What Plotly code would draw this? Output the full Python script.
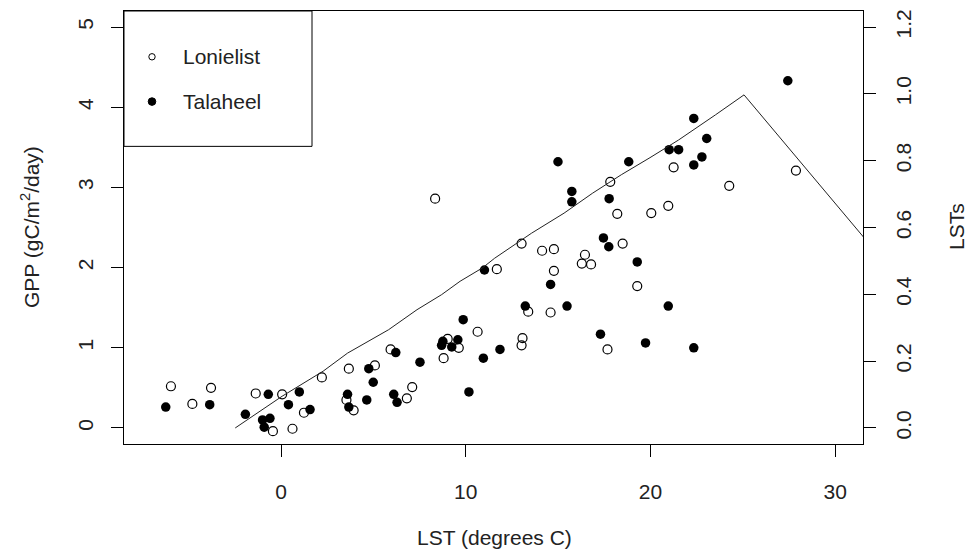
import plotly.graph_objects as go

# ---- data ----
lon_lst = [-5.96, -4.80, -3.79, -1.37, 0.06, -0.44, 0.62, 1.24, 2.21, 3.67, 3.54, 3.93,
           5.08, 5.93, 6.81, 7.10, 10.64, 9.02, 9.62, 8.80, 13.07, 13.02, 13.38, 14.59,
           14.77, 14.13, 14.77, 11.68, 13.02, 8.34, 17.82, 18.20, 16.45, 16.28, 16.78,
           18.49, 19.28, 17.67, 20.04, 20.96, 21.25, 24.26, 27.87]
lon_gpp = [0.52, 0.30, 0.50, 0.43, 0.42, -0.04, -0.01, 0.19, 0.63, 0.74, 0.35, 0.22,
           0.78, 0.98, 0.37, 0.51, 1.20, 1.11, 1.00, 0.87, 1.12, 1.03, 1.45, 1.44,
           1.96, 2.21, 2.23, 1.98, 2.30, 2.86, 3.07, 2.67, 2.16, 2.05, 2.04,
           2.30, 1.77, 0.98, 2.68, 2.77, 3.25, 3.02, 3.21]

tal_lst = [-6.24, -3.86, -1.93, -0.69, 0.99, 0.40, -1.00, -0.60, -0.91, 1.57, 3.60, 3.67,
           4.75, 4.99, 4.64, 6.21, 6.10, 6.28, 7.52, 9.86, 8.76, 8.69, 9.24, 9.57,
           10.17, 10.95, 11.85, 13.22, 14.59, 15.48, 11.01, 14.99, 15.74, 15.74, 17.76,
           18.82, 17.45, 17.74, 19.28, 20.96, 17.29, 19.73, 22.34, 21.01, 21.52, 22.34,
           23.04, 22.78, 22.34, 27.43]
tal_gpp = [0.26, 0.29, 0.17, 0.42, 0.45, 0.29, 0.10, 0.12, 0.01, 0.23, 0.42, 0.26,
           0.74, 0.57, 0.35, 0.94, 0.42, 0.32, 0.82, 1.35, 1.08, 1.03, 1.01, 1.10,
           0.45, 0.87, 0.98, 1.52, 1.79, 1.52, 1.97, 3.32, 2.95, 2.82, 2.86,
           3.32, 2.37, 2.26, 2.07, 1.52, 1.17, 1.06, 1.00, 3.47, 3.47, 3.86,
           3.61, 3.38, 3.28, 4.33]

line_lst = [-2.48, 0.06, 2.28, 3.60, 5.82, 7.36, 8.69, 9.69, 10.90, 11.56, 13.56, 15.32,
            16.87, 18.42, 19.97, 21.52, 23.51, 25.06, 31.70]
line_scale = [0.0, 0.095, 0.170, 0.224, 0.294, 0.354, 0.399, 0.439, 0.479, 0.508, 0.583, 0.643,
              0.703, 0.758, 0.809, 0.862, 0.937, 0.997, 0.560]

x_ticks = [0, 10, 20, 30]
y_ticks = [0, 1, 2, 3, 4, 5]
y2_ticks = [0.0, 0.2, 0.4, 0.6, 0.8, 1.0, 1.2]
y2_labels = ["0.0", "0.2", "0.4", "0.6", "0.8", "1.0", "1.2"]

FONT = "Liberation Sans, Arial, sans-serif"
FS = 21

fig = go.Figure()
fig.add_trace(go.Scatter(x=lon_lst, y=lon_gpp, mode="markers", name="Lonielist",
                         marker=dict(symbol="circle-open", size=9, color="black",
                                     line=dict(width=1.2, color="black")),
                         cliponaxis=False))
fig.add_trace(go.Scatter(x=tal_lst, y=tal_gpp, mode="markers", name="Talaheel",
                         marker=dict(symbol="circle", size=9.5, color="black"),
                         cliponaxis=False))
fig.add_trace(go.Scatter(x=line_lst, y=line_scale, mode="lines", yaxis="y2",
                         line=dict(color="#222222", width=1), name="LSTs"))

W, H = 970, 554
L, R, T, B = 124, 107, 9, 110
pw, ph = W - L - R, H - T - B

def px(X):
    return (X - L) / pw

def py(Y):
    return (H - B - Y) / ph

shapes = [
    dict(type="rect", xref="paper", yref="paper", x0=0, x1=px(312), y0=py(145), y1=1,
         line=dict(color="black", width=1), fillcolor="white", layer="above"),
    dict(type="circle", xref="paper", yref="paper", xsizemode="pixel", ysizemode="pixel",
         xanchor=px(152), yanchor=py(55), x0=-3.2, x1=3.2, y0=-3.2, y1=3.2,
         line=dict(color="black", width=1), fillcolor="white", layer="above"),
    dict(type="circle", xref="paper", yref="paper", xsizemode="pixel", ysizemode="pixel",
         xanchor=px(152), yanchor=py(100), x0=-3.8, x1=3.8, y0=-3.8, y1=3.8,
         line=dict(color="black", width=1), fillcolor="black", layer="above"),
]

annotations = [
    dict(text="Lonielist", x=px(181), y=py(55), xref="paper", yref="paper",
         xanchor="left", yanchor="middle", showarrow=False, font=dict(size=FS, family=FONT, color="#222")),
    dict(text="Talaheel", x=px(181), y=py(100), xref="paper", yref="paper",
         xanchor="left", yanchor="middle", showarrow=False, font=dict(size=FS, family=FONT, color="#222")),
    dict(text="LST (degrees C)", x=px(494), y=py(538), xref="paper", yref="paper",
         xanchor="center", yanchor="middle", showarrow=False, font=dict(size=FS, family=FONT, color="#222")),
    dict(text="GPP (gC/m<sup>2</sup>/day)", x=px(30), y=py(226), xref="paper", yref="paper",
         xanchor="center", yanchor="middle", textangle=-90, showarrow=False,
         font=dict(size=FS, family=FONT, color="#222")),
    dict(text="LSTs", x=px(956), y=py(226), xref="paper", yref="paper",
         xanchor="center", yanchor="middle", textangle=-90, showarrow=False,
         font=dict(size=FS, family=FONT, color="#222")),
]

fig.update_layout(
    width=W, height=H,
    margin=dict(l=L, r=R, t=T, b=B, pad=0),
    paper_bgcolor="white", plot_bgcolor="white",
    showlegend=False,
    font=dict(family=FONT, size=FS, color="#222"),
    xaxis=dict(range=[-8.5, 31.5], tickvals=x_ticks, ticks="outside", ticklen=12,
               tickcolor="black", showline=True, linecolor="black", linewidth=1, mirror=True,
               showgrid=False, zeroline=False, ticklabelstandoff=17),
    yaxis=dict(range=[-0.2, 5.2], tickvals=y_ticks, ticks="outside", ticklen=12,
               tickcolor="black", showline=True, linecolor="black", linewidth=1, mirror=True,
               showgrid=False, zeroline=False, tickangle=-90, ticklabelstandoff=10),
    yaxis2=dict(range=[-0.048, 1.248], tickvals=y2_ticks, ticktext=y2_labels, overlaying="y",
                side="right", ticks="outside", ticklen=12, tickcolor="black", showline=False,
                showgrid=False, zeroline=False, tickangle=-90, ticklabelstandoff=10),
    shapes=shapes, annotations=annotations,
)

fig.write_html("out.html")
